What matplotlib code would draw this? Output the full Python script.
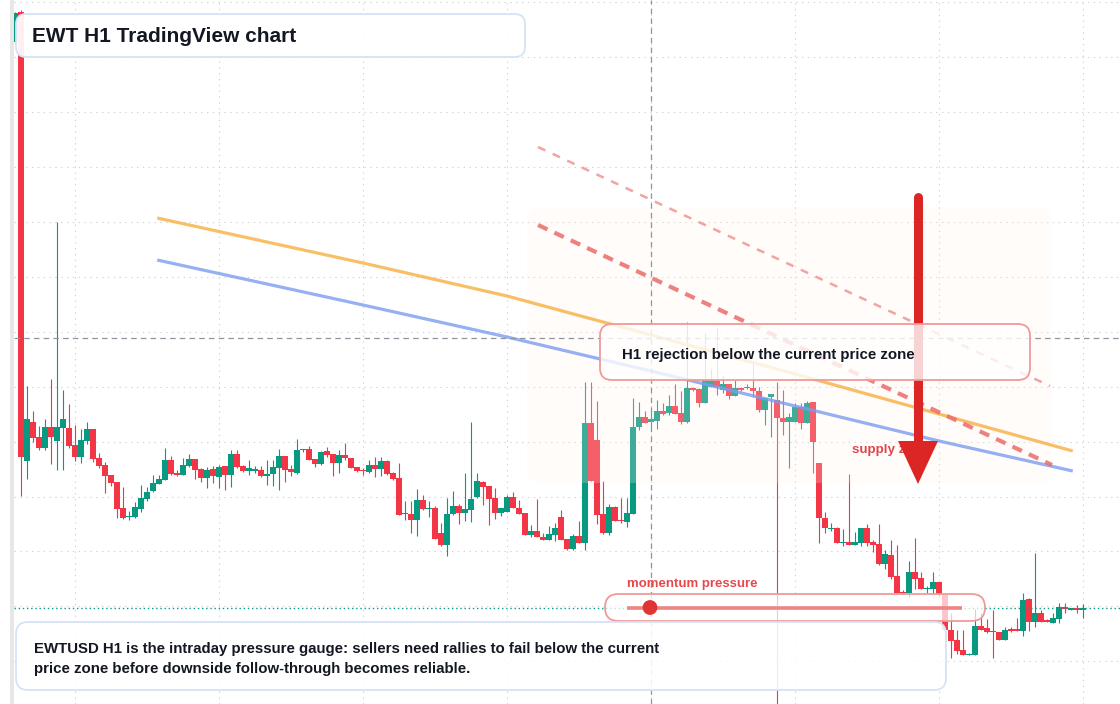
import matplotlib
matplotlib.use("Agg")
import matplotlib.pyplot as plt
import numpy as np
from matplotlib.patches import FancyBboxPatch, Polygon, Circle, Rectangle
from matplotlib.transforms import Affine2D

plt.rcParams['font.family'] = ['Liberation Sans', 'DejaVu Sans']
plt.rcParams['lines.scale_dashes'] = False

# ---------------- data (EWT H1 candles, price units) ----------------
opens = [95.8, 98.8, 53.9, 57.8, 56.3, 55.2, 57.3, 55.9, 57.2, 57.2,
         55.5, 54.3, 55.9, 57.1, 54.2, 53.5, 52.5, 51.8, 49.2, 48.3,
         48.3, 49.1, 50.1, 50.9, 51.6, 52.0, 54.0, 52.7, 52.5, 53.4,
         54.1, 53.1, 52.2, 53.1, 52.3, 53.4, 52.5, 54.6, 53.4, 52.9,
         52.95, 53.0, 52.4, 52.6, 53.2, 54.4, 53.1, 52.7, 55.0, 55.1,
         54.1, 53.6, 54.9, 54.6, 53.7, 54.5, 54.2, 53.3, 53.0, 52.8,
         53.5, 53.1, 53.9, 52.7, 52.2, 48.6, 48.6, 48.0, 50.0, 49.1,
         49.2, 46.7, 45.5, 48.6, 49.4, 48.7, 49.0, 50.3, 51.8, 51.4,
         50.2, 48.7, 48.8, 50.3, 49.2, 48.7, 46.5, 46.9, 46.3, 46.0,
         46.5, 48.3, 46.1, 45.1, 46.4, 45.7, 57.7, 56.0, 48.6, 46.7,
         49.3, 48.0, 47.8, 48.6, 57.3, 58.3, 57.8, 57.9, 58.9, 58.7,
         59.4, 58.7, 57.8, 61.2, 61.1, 59.7, 61.3, 62.0, 61.0, 61.6,
         60.4, 61.2, 61.2, 61.2, 60.9, 59.0, 60.3, 60.0, 58.2, 57.8,
         57.8, 59.3, 57.7, 59.8, 53.7, 48.2, 47.1, 47.2, 45.7, 45.8,
         45.5, 45.7, 47.2, 45.8, 45.6, 43.6, 44.5, 42.4, 40.8, 40.7,
         42.8, 42.2, 41.1, 41.1, 41.8, 40.5, 37.0, 36.0, 35.0, 34.5,
         34.5, 37.4, 37.2, 36.9, 36.8, 36.0, 37.05, 37.1, 36.9, 40.1,
         37.8, 38.7, 38.0, 37.7, 38.1, 39.3, 39.05, 39.25, 39.05]
highs = [98.8, 99.0, 61.4, 58.9, 57.4, 58.1, 62.1, 77.8, 61.0, 59.6,
         57.5, 57.1, 57.8, 57.1, 54.7, 53.8, 52.5, 51.8, 51.3, 48.9,
         49.8, 51.5, 51.3, 52.5, 52.5, 55.2, 54.4, 53.0, 54.2, 54.6,
         54.1, 53.2, 53.3, 53.4, 53.5, 53.4, 55.0, 55.0, 53.5, 54.0,
         53.4, 53.4, 54.0, 54.0, 55.1, 54.4, 53.5, 56.1, 55.1, 55.4,
         54.1, 54.9, 55.3, 54.6, 55.0, 55.7, 54.2, 53.3, 53.2, 54.0,
         54.3, 54.3, 54.0, 52.8, 53.7, 49.9, 49.9, 51.1, 50.5, 49.9,
         49.4, 47.7, 50.2, 50.9, 49.6, 52.7, 57.8, 52.7, 51.9, 51.4,
         51.2, 49.2, 50.5, 50.8, 50.0, 48.7, 47.5, 50.1, 46.7, 47.4,
         47.7, 49.0, 46.1, 46.6, 47.9, 61.8, 61.8, 59.9, 51.9, 49.6,
         49.4, 50.2, 50.2, 60.2, 59.8, 58.9, 58.9, 60.0, 59.7, 60.5,
         61.6, 60.9, 67.8, 61.3, 61.2, 66.7, 63.1, 67.3, 62.5, 61.6,
         62.0, 61.3, 61.6, 63.9, 61.3, 60.2, 60.6, 61.8, 61.0, 58.7,
         59.7, 59.7, 59.9, 59.8, 53.7, 48.8, 47.7, 47.3, 47.1, 52.6,
         46.8, 47.2, 47.6, 46.0, 47.6, 45.0, 46.0, 45.5, 41.0, 43.9,
         46.2, 42.8, 41.4, 42.8, 41.8, 40.5, 38.7, 37.0, 37.0, 34.7,
         39.1, 38.7, 38.1, 39.0, 36.8, 37.3, 37.3, 38.2, 40.7, 40.2,
         44.7, 39.0, 38.1, 38.7, 39.7, 39.7, 39.2, 39.5, 39.6]
lows = [95.8, 50.4, 52.1, 55.8, 55.0, 55.0, 53.6, 53.0, 53.0, 55.2,
        53.9, 53.7, 55.6, 53.8, 53.2, 50.7, 51.4, 48.2, 48.1, 48.0,
        48.2, 48.8, 49.9, 50.8, 51.6, 52.0, 52.5, 52.4, 52.5, 53.3,
        52.1, 51.8, 51.2, 51.7, 51.2, 51.0, 51.3, 53.2, 52.8, 52.5,
        52.7, 52.3, 51.5, 51.4, 51.0, 51.8, 52.4, 52.6, 54.8, 54.0,
        53.3, 53.5, 54.3, 52.4, 52.7, 54.0, 53.2, 52.8, 52.5, 52.7,
        52.3, 52.4, 52.5, 52.0, 48.5, 48.0, 46.7, 46.4, 49.0, 48.3,
        46.1, 45.4, 44.4, 48.5, 47.6, 47.9, 47.8, 50.2, 49.5, 47.5,
        48.1, 48.4, 48.8, 49.2, 48.6, 46.5, 46.3, 46.3, 46.0, 46.0,
        45.9, 46.0, 45.0, 45.0, 45.7, 45.0, 51.9, 47.6, 46.6, 46.5,
        47.9, 47.7, 47.3, 48.6, 57.0, 57.7, 57.3, 57.1, 58.5, 58.5,
        58.6, 57.6, 57.7, 60.9, 59.3, 59.7, 61.3, 60.5, 60.7, 60.1,
        60.4, 60.9, 61.1, 60.3, 58.8, 57.5, 56.3, 29.0, 56.5, 53.2,
        57.8, 57.1, 57.7, 52.7, 45.7, 46.7, 46.9, 45.7, 45.4, 45.5,
        45.5, 45.4, 45.4, 44.8, 43.5, 43.1, 42.1, 40.7, 40.7, 40.3,
        41.1, 41.1, 40.7, 40.7, 40.3, 36.8, 34.2, 34.6, 34.5, 34.5,
        34.5, 37.0, 36.7, 34.2, 36.0, 36.0, 36.8, 36.9, 36.4, 36.9,
        37.3, 37.8, 37.8, 37.7, 37.7, 38.7, 39.0, 38.7, 38.2]
closes = [98.7, 54.3, 58.1, 56.2, 55.2, 57.3, 56.3, 57.3, 58.1, 55.4,
          54.3, 56.0, 57.1, 54.1, 53.4, 52.4, 51.7, 49.1, 48.2, 48.4,
          49.3, 50.2, 50.8, 51.7, 52.1, 54.0, 52.6, 52.5, 53.5, 54.1,
          53.0, 52.2, 53.0, 52.4, 53.3, 52.5, 54.6, 53.3, 52.9, 53.2,
          53.05, 52.4, 52.6, 53.3, 54.4, 53.0, 52.8, 55.0, 55.1, 54.0,
          53.6, 54.8, 54.5, 53.7, 54.5, 54.2, 53.2, 52.9, 52.9, 53.5,
          53.1, 53.9, 52.6, 52.1, 48.5, 48.7, 48.0, 50.0, 49.1, 49.2,
          46.1, 45.5, 48.6, 49.4, 48.7, 49.1, 50.1, 51.9, 51.3, 50.1,
          48.7, 49.2, 50.3, 49.2, 48.6, 46.5, 46.9, 46.3, 46.0, 46.6,
          47.2, 46.0, 45.1, 46.4, 45.7, 57.7, 51.9, 48.5, 46.7, 49.3,
          47.9, 47.9, 48.7, 57.3, 58.3, 57.7, 58.1, 58.9, 58.6, 59.4,
          58.6, 57.8, 61.2, 61.0, 59.7, 62.0, 62.0, 61.3, 61.6, 60.4,
          61.2, 61.0, 61.3, 60.9, 59.0, 60.2, 60.6, 58.2, 57.8, 58.3,
          59.3, 57.7, 59.7, 55.8, 48.2, 47.2, 47.2, 45.7, 45.75, 45.5,
          45.8, 47.2, 45.7, 45.5, 43.6, 44.6, 42.3, 40.7, 40.7, 42.8,
          42.1, 41.1, 41.2, 41.8, 40.5, 37.0, 35.9, 34.9, 34.5, 34.6,
          37.4, 37.0, 36.8, 36.8, 36.0, 37.0, 36.95, 36.9, 40.0, 37.8,
          38.7, 37.8, 37.8, 38.2, 39.3, 39.1, 39.15, 39.0, 39.2]

# moving-average overlays (bar index -> price)
ma_idx = [23.7, 58, 82, 106, 130, 154, 176.3]
ma_orange = [78.2, 73.7, 70.4, 66.5, 62.6, 58.6, 54.9]
ma_blue = [74.0, 69.5, 66.3, 62.9, 59.4, 55.9, 52.9]

# descending trend lines
trend_idx = [87.17, 172.83]
trend_main = [77.5, 53.5]
trend_upper_idx = [87.17, 172.5]
trend_upper = [85.3, 61.4]

# crosshair / arrow
cross_idx = 106
cross_price = 66.2
arrow_idx = 150.5
arrow_top = 80.35
arrow_head_base = 55.9
arrow_tip = 51.6

title = "EWT H1 TradingView chart"
callout = "H1 rejection below the current price zone"
zone_label = "supply zone"
gauge_label = "momentum pressure"
note_lines = ["EWTUSD H1 is the intraday pressure gauge: sellers need rallies to fail below the current",
              "price zone before downside follow-through becomes reliable."]

TEAL = "#089981"
RED = "#f23645"
INK = "#131722"

# ---------------- figure ----------------
W, H = 1120, 704
fig = plt.figure(figsize=(W / 100, H / 100), dpi=100)
fig.patch.set_facecolor("white")
ax = fig.add_axes([14 / W, 0, (W - 14) / W, 1])
ax.set_facecolor("white")
pix = Affine2D().scale(1 / W, -1 / H).translate(0, 1) + fig.transFigure

fig.add_artist(Rectangle((10, 0), 4, H, transform=pix, color="#e7e7e7", lw=0))

for s in ax.spines.values():
    s.set_visible(False)
ax.set_xticks(np.arange(10, 185, 24))
ax.set_yticks(55.84 + 5.49 * np.arange(-5, 9))
ax.tick_params(length=0, labelbottom=False, labelleft=False)
ax.grid(True, color="#cfd3da", lw=0.8, linestyle=(0, (1, 3.2)))
ax.set_axisbelow(True)

# candles
o = np.array(opens); h = np.array(highs); l = np.array(lows); c = np.array(closes)
idx = np.arange(len(o))
cols = np.where(c >= o, TEAL, RED)
ax.vlines(idx, l, h, colors=cols, lw=0.8, zorder=2)
ax.bar(idx, np.maximum(np.abs(c - o), 0.12), bottom=np.minimum(o, c), width=0.86,
       color=cols, lw=0, zorder=2.1)


def rbox(x, y, w, hh, r, fc, ec, lw, z):
    p = FancyBboxPatch((x, y), w, hh, boxstyle=f"round,pad=0,rounding_size={r}",
                       transform=pix, fc=fc, ec=ec, lw=lw, zorder=z, clip_on=False)
    ax.add_patch(p)


# faint supply zone
rbox(527, 207, 525, 276, 14, (1.0, 0.95, 0.92, 0.22), "none", 0, 2.5)

# MA lines
ax.plot(ma_idx, ma_orange, color="#f7b44c", alpha=0.85, lw=2.3, zorder=3, solid_capstyle="butt")
ax.plot(ma_idx, ma_blue, color="#7b9cf0", alpha=0.8, lw=2.3, zorder=3, solid_capstyle="butt")

# trend lines
ax.plot(trend_upper_idx, trend_upper, color="#f3a3a3", lw=1.8, zorder=3,
        linestyle=(0, (5.8, 5.8)), dash_capstyle="butt")
ax.plot(trend_idx, trend_main, color="#ea6b6b", alpha=0.85, lw=3.0, zorder=3,
        linestyle=(0, (7.5, 5.5)), dash_capstyle="butt")

# crosshair + last price line
ax.axvline(cross_idx, color="#8f959e", lw=0.9, linestyle=(0, (4, 3)), zorder=3.2)
ax.axhline(cross_price, color="#8f959e", lw=0.9, linestyle=(0, (4, 3)), zorder=3.2)
ax.axhline(closes[-1], color=TEAL, lw=1.0, linestyle=(0, (1, 2)), zorder=3.3)

# supply zone label and arrow
ax.text(851.5, 449.5, zone_label, transform=pix, fontsize=9.6, fontweight="bold",
        color="#e0464a", va="center", ha="left", zorder=3.9)
ax.plot([arrow_idx, arrow_idx], [arrow_top, arrow_head_base], color="#dc2626", lw=6.5,
        solid_capstyle="round", zorder=4)
ax.add_patch(Polygon([(arrow_idx - 3.33, arrow_head_base), (arrow_idx + 3.33, arrow_head_base),
                      (arrow_idx, arrow_tip)], closed=True, color="#dc2626", lw=0, zorder=4))

# callout box
rbox(600, 324, 430, 56, 12, (1, 1, 1, 0.8), "#f09a9a", 1.3, 5)
ax.text(622, 355.5, callout, transform=pix, fontsize=10.8, fontweight="bold", color=INK,
        va="center", ha="left", zorder=5.1)

# momentum gauge
ax.text(627, 583.5, gauge_label, transform=pix, fontsize=9.5, fontweight="bold",
        color="#e5484d", va="center", ha="left", zorder=5.1)
rbox(605, 594, 380, 27, 13.5, (1, 1, 1, 0.72), "#ef9a9a", 1.3, 5)
ax.plot([627, 962], [607.5, 607.5], transform=pix, color="#ee8585", lw=2.6, zorder=5.1,
        clip_on=False, solid_capstyle="butt")
ax.add_patch(Circle((650, 607.5), 6.7, transform=pix, color="#e03535", zorder=5.2, clip_on=False))

# title box
rbox(16, 14, 509, 43, 10, (1, 1, 1, 0.93), "#d5e3f7", 1.3, 6)
ax.text(32, 37, title, transform=pix, fontsize=15, fontweight="bold", color=INK,
        va="center", ha="left", zorder=6.1)

# bottom note box
rbox(16, 622, 930, 68, 12, (1, 1, 1, 0.88), "#d5e3f7", 1.3, 6)
for k, line in enumerate(note_lines):
    ax.text(34, 649.5 + 20 * k, line, transform=pix, fontsize=10.8, fontweight="bold",
            color=INK, va="center", ha="left", zorder=6.1)

ax.set_xlim(-1 / 6, (W - 15) / 6)
ax.set_ylim(29.6, 100)

fig.savefig("out.png", dpi=100, facecolor="white")
